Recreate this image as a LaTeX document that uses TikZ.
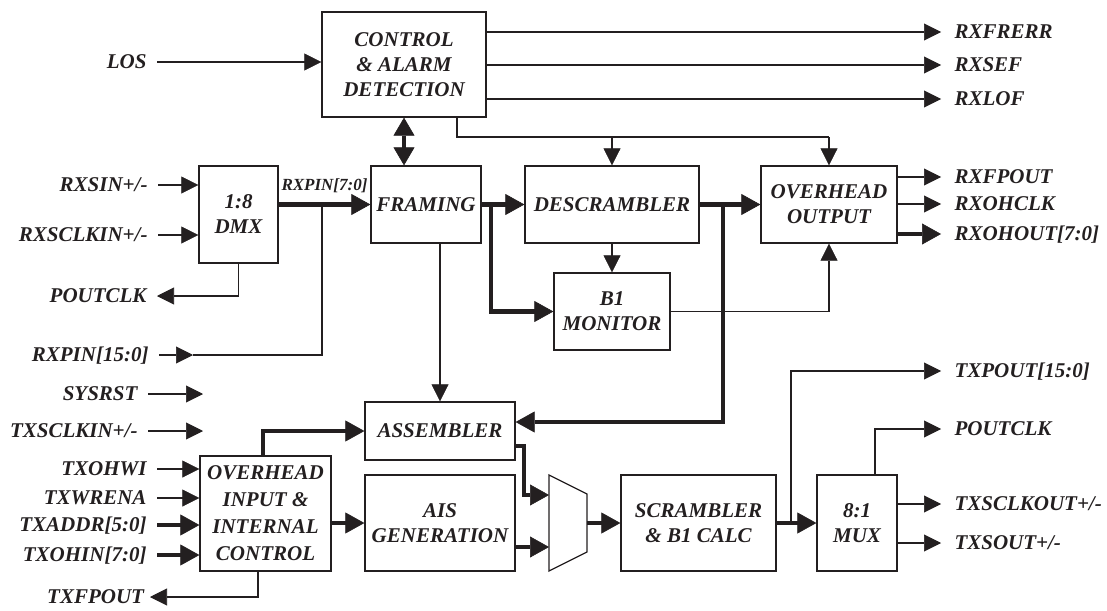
\documentclass[tikz,border=0pt]{standalone}
\usepackage{fontspec}
\setmainfont{Liberation Serif}
\usetikzlibrary{arrows.meta}
\definecolor{ink}{RGB}{35,31,32}
\newcommand{\dgfont}{\fontsize{21}{25}\selectfont\bfseries\itshape}
\begin{document}
\begin{tikzpicture}[x=1pt,y=-1pt, line join=miter,
  every node/.style={text=ink},
  blk/.style={draw=ink, line width=1.3pt, inner sep=0pt, align=center, font=\dgfont},
  llab/.style={inner sep=0pt, outer xsep=10.5pt, text height=13.9pt, text depth=0pt, anchor=east, font=\dgfont},
  rlab/.style={inner sep=0pt, outer xsep=13.5pt, text height=13.9pt, text depth=0pt, anchor=west, font=\dgfont},
  ln/.style={draw=ink, line width=1.3pt},
  arr/.style={ln, -{Triangle[length=17pt,width=17pt,line width=0.6pt]}},
  bln/.style={draw=ink, line width=4.4pt},
  barr/.style={bln, -{Triangle[length=19pt,width=21pt,line width=0.6pt]}},
  bdbl/.style={bln, {Triangle[length=18pt,width=21pt,line width=0.6pt]}-{Triangle[length=18pt,width=21pt,line width=0.6pt]}},
]
\useasboundingbox (0,0) rectangle (1107,610);

% ---------- blocks ----------
\node[blk, minimum width=164pt, minimum height=105pt] (ctrl) at (404,64.5) {CONTROL\\\& ALARM\\DETECTION};
\node[blk, minimum width=79pt, minimum height=97pt] (dmx) at (238.5,214.5) {1:8\\DMX};
\node[blk, minimum width=110pt, minimum height=77pt] (fram) at (426,204.5) {FRAMING};
\node[blk, minimum width=174pt, minimum height=77pt] (desc) at (612,204.5) {DESCRAMBLER};
\node[blk, minimum width=136pt, minimum height=77pt] (ohout) at (829,204.5) {OVERHEAD\\OUTPUT};
\node[blk, minimum width=116pt, minimum height=77pt] (b1) at (612,311.5) {B1\\MONITOR};
\node[blk, minimum width=150pt, minimum height=58pt] (asm) at (440,431) {ASSEMBLER};
\node[blk, minimum width=150pt, minimum height=96pt] (ais) at (440,523) {AIS\\GENERATION};
\node[blk, minimum width=131pt, minimum height=115pt, font=\fontsize{21}{27}\selectfont\bfseries\itshape] (ohin) at (265.5,513.5) {OVERHEAD\\INPUT \&\\INTERNAL\\CONTROL};
\node[blk, minimum width=155pt, minimum height=96pt] (scr) at (698.5,523) {SCRAMBLER\\\& B1 CALC};
\node[blk, minimum width=80pt, minimum height=96pt] (mux) at (857,523) {8:1\\MUX};

% selector (trapezoid)
\draw[ln] (549,475) -- (587,494) -- (587,552) -- (549,571) -- cycle;
\coordinate (in1) at (549,495);
\coordinate (in2) at (549,547);
\coordinate (mout) at (587,523);

% ---------- left labels ----------
\node[llab] (los) at (157,62) {LOS};
\node[llab] (rxsin) at (158,185) {RXSIN+/-};
\node[llab] (rxsclkin) at (158,235) {RXSCLKIN+/-};
\node[llab] (poutclkA) at (157,296) {POUTCLK};
\node[llab] (rxpin15) at (159,355) {RXPIN[15:0]};
\node[llab] (sysrst) at (148,394) {SYSRST};
\node[llab] (txsclkin) at (148,431) {TXSCLKIN+/-};
\node[llab] (txohwi) at (157,469) {TXOHWI};
\node[llab] (txwrena) at (157,498) {TXWRENA};
\node[llab] (txaddr) at (157,525) {TXADDR[5:0]};
\node[llab] (txohin) at (157,555) {TXOHIN[7:0]};
\node[llab, outer xsep=6pt] (txfpout) at (150,597) {TXFPOUT};

% ---------- right labels ----------
\node[rlab] (rxfrerr) at (941,32) {RXFRERR};
\node[rlab] (rxsef) at (941,65) {RXSEF};
\node[rlab] (rxlof) at (941,99) {RXLOF};
\node[rlab] (rxfpout) at (941,177) {RXFPOUT};
\node[rlab] (rxohclk) at (941,204) {RXOHCLK};
\node[rlab] (rxohout) at (941,234) {RXOHOUT[7:0]};
\node[rlab] (txpout) at (941,371) {TXPOUT[15:0]};
\node[rlab] (poutclkB) at (941,429) {POUTCLK};
\node[rlab] (txsclkout) at (941,504) {TXSCLKOUT+/-};
\node[rlab] (txsout) at (941,543) {TXSOUT+/-};

% bus label
\node[inner sep=0pt, font=\fontsize{17}{20}\selectfont\bfseries\itshape] (rxpin7) at (324.5,186) {RXPIN[7:0]};

% ---------- helper coordinates ----------
\coordinate (cb) at (457,137);
\coordinate (br1) at (322,205);
\coordinate (rpmid) at (193,355);
\coordinate (br2) at (491,205);
\coordinate (br3) at (723,205);
\coordinate (br3b) at (723,422);
\coordinate (a1) at (524,446);
\coordinate (br4) at (791,523);
\coordinate (sysend) at (203,394);
\coordinate (txsend) at (203,431);

% ---------- control & alarm ----------
\draw[arr] (los.east) -- (los.east -| ctrl.west);
\draw[arr] (ctrl.east |- rxfrerr.west) -- (rxfrerr.west);
\draw[arr] (ctrl.east |- rxsef.west) -- (rxsef.west);
\draw[arr] (ctrl.east |- rxlof.west) -- (rxlof.west);
\draw[ln] (ctrl.south -| cb) -- (cb) -- (cb -| ohout.north);
\draw[arr] (cb -| ohout.north) -- (ohout.north);
\draw[arr] (cb -| desc.north) -- (desc.north);
\draw[bdbl] (ctrl.south) -- (ctrl.south |- fram.north);

% ---------- receive path ----------
\draw[arr] (rxsin.east) -- (rxsin.east -| dmx.west);
\draw[arr] (rxsclkin.east) -- (rxsclkin.east -| dmx.west);
\draw[arr] (dmx.south) |- (poutclkA.east);
\draw[barr] (dmx.east |- fram.west) -- (fram.west);
\draw[ln] (br1) |- (rpmid);
\draw[arr] (rxpin15.east) -- (rpmid);
\draw[barr] (fram.east) -- (desc.west);
\draw[barr] (br2) |- (b1.west);
\draw[arr] (desc.south) -- (b1.north);
\draw[barr] (desc.east) -- (ohout.west);
\draw[barr] (br3) -- (br3b) -- (br3b -| asm.east);
\draw[arr] (b1.east) -| (ohout.south);
\draw[arr] (ohout.east |- rxfpout.west) -- (rxfpout.west);
\draw[arr] (ohout.east |- rxohclk.west) -- (rxohclk.west);
\draw[barr] (ohout.east |- rxohout.west) -- (rxohout.west);

% ---------- transmit path ----------
\draw[arr] (sysrst.east) -- (sysend);
\draw[arr] (txsclkin.east) -- (txsend);
\draw[arr] (txohwi.east) -- (txohwi.east -| ohin.west);
\draw[arr] (txwrena.east) -- (txwrena.east -| ohin.west);
\draw[barr] (txaddr.east) -- (txaddr.east -| ohin.west);
\draw[barr] (txohin.east) -- (txohin.east -| ohin.west);
\draw[arr] ([xshift=-7.5pt]ohin.south) |- (txfpout.east);
\draw[arr] (fram.south -| asm.north) -- (asm.north);
\draw[barr] ([xshift=-2.5pt]ohin.north) |- (asm.west);
\draw[barr] (ohin.east |- ais.west) -- (ais.west);
\draw[barr] (asm.east |- a1) -- (a1) |- (in1);
\draw[barr] (ais.east |- in2) -- (in2);
\draw[barr] (mout) -- (mout -| scr.west);
\draw[barr] (scr.east) -- (mux.west);
\draw[arr] (br4) |- (txpout.west);
\draw[arr] ([xshift=18pt]mux.north) |- (poutclkB.west);
\draw[arr] (mux.east |- txsclkout.west) -- (txsclkout.west);
\draw[arr] (mux.east |- txsout.west) -- (txsout.west);
\end{tikzpicture}
\end{document}
